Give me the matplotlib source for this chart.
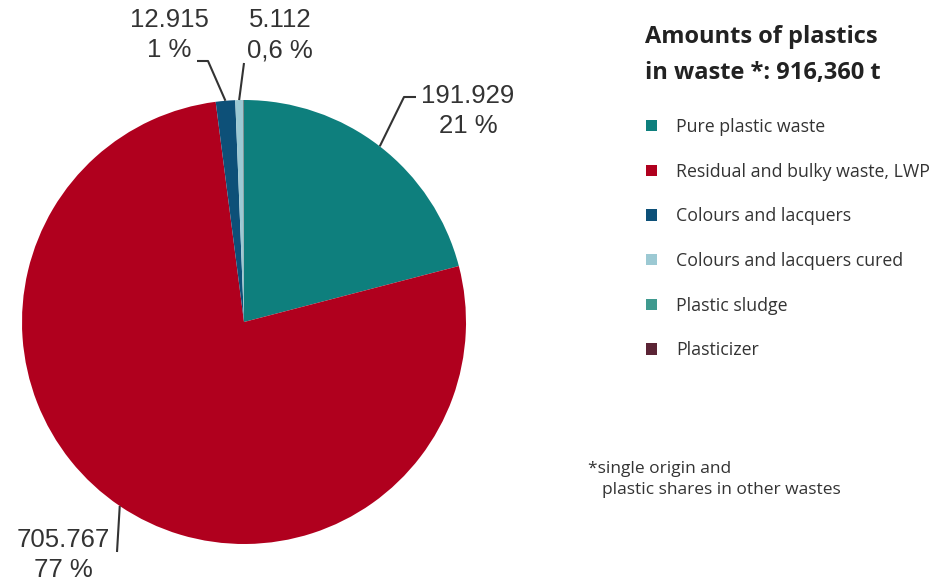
import matplotlib
matplotlib.use("Agg")
import matplotlib.pyplot as plt
import numpy as np

# Plastic amounts in waste, tonnes
categories = [
    "Pure plastic waste",
    "Residual and bulky waste, LWP",
    "Colours and lacquers",
    "Colours and lacquers cured",
    "Plastic sludge",
    "Plasticizer",
]
tonnes = [191929, 705767, 12915, 5112, 400, 237]
value_labels = ["191.929", "705.767", "12.915", "5.112", None, None]
share_labels = ["21 %", "77 %", "1 %", "0,6 %", None, None]
colors = ["#0E7F7D", "#B0001E", "#0D5078", "#9CC9D3", "#3F9A8F", "#5B2435"]
title_lines = ["Amounts of plastics", "in waste *: 916,360 t"]
footnote_lines = ["*single origin and", "plastic shares in other wastes"]

W, H = 948, 586
fig = plt.figure(figsize=(W / 100, H / 100), dpi=100)
ax = fig.add_axes([0, 0, 1, 1])


def py(y):
    """Convert a top-down pixel row into the axes' bottom-up coordinate."""
    return H - y


cx, cy, R = 244, py(322), 222
wedges, _ = ax.pie(
    tonnes, colors=colors, startangle=90, counterclock=False,
    center=(cx, cy), radius=R, frame=True,
    wedgeprops=dict(linewidth=0),
)
ax.set_xlim(0, W)
ax.set_ylim(0, H)
ax.set_aspect("equal")
ax.axis("off")

# leader line bends (pixel layout) and label block centres
leader_paths = {
    0: [(404, 97), (416, 97)],
    1: [(117, 552)],
    2: [(208, 61), (197, 61)],
    3: [(244, 63)],
}
label_pos = {
    0: (468, 111),
    1: (63, 555),
    2: (169, 35),
    3: (280, 35),
}
label_font = dict(family="Liberation Sans", size=18.5, color="#333333")
for i, w in enumerate(wedges):
    if value_labels[i] is None:
        continue
    mid = np.deg2rad((w.theta1 + w.theta2) / 2)
    ax_x = cx + R * np.cos(mid)
    ax_y = cy + R * np.sin(mid)
    xs = [ax_x] + [p[0] for p in leader_paths[i]]
    ys = [ax_y] + [py(p[1]) for p in leader_paths[i]]
    ax.plot(xs, ys, color="#333333", lw=1.5, solid_capstyle="butt")
    lx, ly = label_pos[i]
    ax.text(lx, py(ly), f"{value_labels[i]}\n{share_labels[i]}",
            ha="center", va="center", linespacing=1.35, **label_font)

# title
title_font = dict(family="Open Sans", weight="bold", size=17, color="#222222")
ax.text(645, py(37), title_lines[0], ha="left", va="center", **title_font)
ax.text(645, py(73), title_lines[1], ha="left", va="center", **title_font)

# legend
fig.legend(
    wedges, categories, loc="upper left",
    bbox_to_anchor=(646 / W, 1 - 118 / H),
    frameon=False, prop=dict(family="Open Sans", size=12.8),
    labelcolor="#333333", handlelength=0.6, handleheight=0.6,
    labelspacing=1.5, handletextpad=1.1, borderpad=0, borderaxespad=0,
)

# footnote
foot_font = dict(family="Open Sans", size=12.5, color="#333333")
ax.text(588, py(469), footnote_lines[0], ha="left", va="center", **foot_font)
ax.text(602, py(490), footnote_lines[1], ha="left", va="center", **foot_font)

fig.savefig("out.png", dpi=100, facecolor="white")
